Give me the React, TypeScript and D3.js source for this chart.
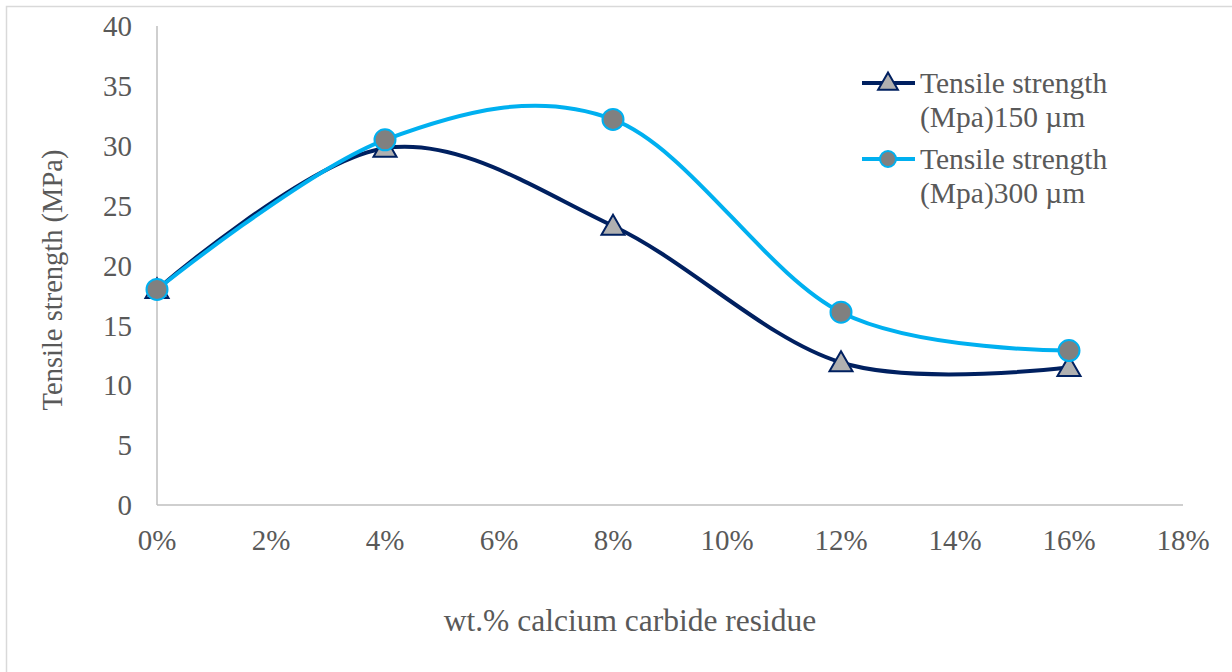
import React, { useEffect, useRef } from 'react';
import * as d3 from 'd3';

const xValues = [0, 0.04, 0.08, 0.12, 0.16];
const series150 = [18, 29.8, 23.3, 11.9, 11.5];
const series300 = [18, 30.5, 32.2, 16.1, 12.9];
const xTicks = [0, 0.02, 0.04, 0.06, 0.08, 0.1, 0.12, 0.14, 0.16, 0.18];
const yTicks = [0, 5, 10, 15, 20, 25, 30, 35, 40];
const legendLabels = [
  ['Tensile strength', '(Mpa)150 µm'],
  ['Tensile strength', '(Mpa)300 µm'],
];

const W = 1232;
const H = 672;
const FONT = 'Liberation Serif, Times New Roman, DejaVu Serif, serif';
const TEXT = '#595959';
const NAVY = '#002060';
const SKY = '#00B0F0';

const App: React.FC = () => {
  const svgRef = useRef<SVGSVGElement>(null);

  useEffect(() => {
    document.body.style.margin = '0';
    if (!svgRef.current) return;
    const svg = d3.select(svgRef.current);
    svg.selectAll('*').remove();

    const x = d3.scaleLinear().domain([0, 0.18]).range([157, 1183]);
    const y = d3.scaleLinear().domain([0, 40]).range([505, 26]);

    // outer frame
    svg.append('rect')
      .attr('x', 6.5).attr('y', 6.5)
      .attr('width', 1240).attr('height', 700)
      .attr('fill', 'white').attr('stroke', '#d9d9d9').attr('stroke-width', 1.5);

    // axes lines
    svg.append('line')
      .attr('x1', x(0)).attr('x2', x(0)).attr('y1', y(40)).attr('y2', y(0))
      .attr('stroke', '#bfbfbf').attr('stroke-width', 1.5);
    svg.append('line')
      .attr('x1', x(0)).attr('x2', x(0.18)).attr('y1', y(0)).attr('y2', y(0))
      .attr('stroke', '#bfbfbf').attr('stroke-width', 1.5);

    const txt = svg.append('g')
      .attr('font-family', FONT).attr('font-size', 29).attr('fill', TEXT);

    // tick labels
    txt.append('g').selectAll('text').data(yTicks).join('text')
      .attr('x', 132).attr('y', d => y(d)).attr('dy', '0.35em')
      .attr('text-anchor', 'end')
      .text(d => d);

    txt.append('g').selectAll('text').data(xTicks).join('text')
      .attr('x', d => x(d)).attr('y', 550)
      .attr('text-anchor', 'middle')
      .text(d => d3.format('.0%')(d));

    // axis titles
    txt.append('text')
      .attr('transform', 'translate(62,280) rotate(-90)')
      .attr('text-anchor', 'middle')
      .attr('font-size', 28.5)
      .text('Tensile strength (MPa)');
    txt.append('text')
      .attr('x', 630).attr('y', 631)
      .attr('text-anchor', 'middle')
      .attr('font-size', 31.5)
      .text('wt.% calcium carbide residue');

    const line = d3.line<number>()
      .x((_, i) => x(xValues[i]))
      .y(d => y(d))
      .curve(d3.curveCardinal.tension(0));

    const triangle = d3.symbol().type(d3.symbolTriangle).size(230);

    // 150 µm series
    svg.append('path')
      .attr('d', line(series150))
      .attr('fill', 'none').attr('stroke', NAVY).attr('stroke-width', 4);
    svg.append('g').selectAll('path').data(series150).join('path')
      .attr('d', triangle)
      .attr('transform', (d, i) => `translate(${x(xValues[i])},${y(d) + 2})`)
      .attr('fill', '#b0b0b0').attr('stroke', NAVY).attr('stroke-width', 2);

    // 300 µm series
    svg.append('path')
      .attr('d', line(series300))
      .attr('fill', 'none').attr('stroke', SKY).attr('stroke-width', 4);
    svg.append('g').selectAll('circle').data(series300).join('circle')
      .attr('cx', (_, i) => x(xValues[i])).attr('cy', d => y(d)).attr('r', 10.5)
      .attr('fill', '#808080').attr('stroke', SKY).attr('stroke-width', 2);

    // legend
    const legendY = [83, 159];
    const lg = svg.append('g');
    legendLabels.forEach((lines, i) => {
      const ly = legendY[i];
      const color = i === 0 ? NAVY : SKY;
      lg.append('line')
        .attr('x1', 862).attr('x2', 915).attr('y1', ly).attr('y2', ly)
        .attr('stroke', color).attr('stroke-width', 4);
      if (i === 0) {
        lg.append('path').attr('d', d3.symbol().type(d3.symbolTriangle).size(170)())
          .attr('transform', `translate(888,${ly + 1})`)
          .attr('fill', '#b0b0b0').attr('stroke', NAVY).attr('stroke-width', 2);
      } else {
        lg.append('circle').attr('cx', 888).attr('cy', ly).attr('r', 8)
          .attr('fill', '#808080').attr('stroke', SKY).attr('stroke-width', 2);
      }
      lines.forEach((t, j) => {
        lg.append('text')
          .attr('x', 920).attr('y', ly + j * 34).attr('dy', '0.35em')
          .attr('font-family', FONT).attr('font-size', 29.5).attr('fill', TEXT)
          .text(t);
      });
    });
  }, []);

  return <svg ref={svgRef} width={W} height={H} style={{ display: 'block', background: 'white' }} />;
};

export default App;
